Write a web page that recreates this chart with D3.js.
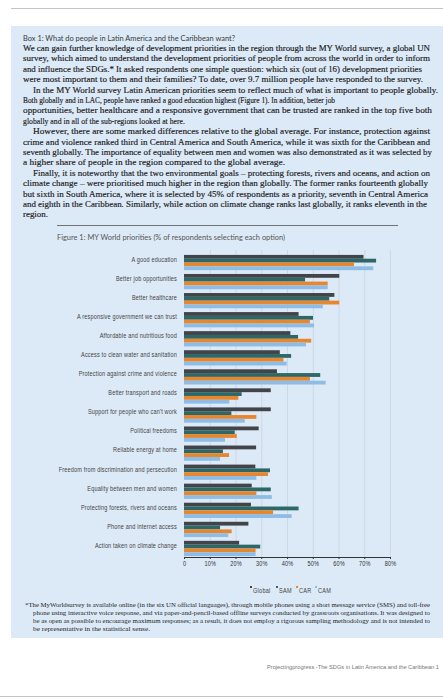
<!DOCTYPE html>
<html><head><meta charset="utf-8">
<script src="https://cdn.jsdelivr.net/npm/d3@7"></script>
<style>
html,body{margin:0;padding:0;background:#fff;}
svg{display:block;}
</style></head>
<body>
<svg id="c" width="443" height="700"></svg>
<script>
// ---- data ----
const categories = [
  "A good education","Better job opportunities","Better healthcare",
  "A responsive government we can trust","Affordable and nutritious food",
  "Access to clean water and sanitation","Protection against crime and violence",
  "Better transport and roads","Support for people who can't work",
  "Political freedoms","Reliable energy at home",
  "Freedom from discrimination and persecution","Equality between  men and women",
  "Protecting forests, rivers and oceans","Phone and internet access",
  "Action taken on climate change"
];
const seriesNames = ["Global","SAM","CAR","CAM"];
const globalVals = [69.7,60.3,58.4,44.5,41.3,37.2,36.1,33.7,33.7,29.0,28.0,27.7,26.3,26.0,25.0,21.4];
const samVals    = [74.6,47.0,56.4,50.1,44.3,41.6,52.9,22.4,18.4,19.7,15.1,33.4,33.7,44.5,14.0,29.6];
const carVals    = [66.0,55.8,60.3,48.9,49.4,38.6,48.9,21.1,28.1,20.5,17.5,32.6,28.1,34.6,18.5,27.8];
const camVals    = [73.5,55.8,53.9,50.5,47.4,39.9,55.0,17.6,23.6,15.9,14.0,28.1,34.1,41.8,17.2,27.8];
const tickValues = [0,10,20,30,40,50,60,70,80];
const tickLabels = ["0","10%","20%","30%","40%","50%","60%","70%","80%"];

const boxTitle = "Box 1: What do people in Latin America and the Caribbean want?";
const paraLines = [
 "We can gain further knowledge of development priorities in the region through the MY World survey, a global UN",
 "survey, which aimed to understand the development priorities of people from across the world in order to inform",
 "and influence the SDGs.* It asked respondents one simple question: which six (out of 16) development priorities",
 "were most important to them and their families? To date, over 9.7 million people have responded to the survey.",
 "In the MY World survey Latin American priorities seem to reflect much of what is important to people globally.",
 "Both globally and in LAC, people have ranked a good education highest (Figure 1). In addition, better job",
 "opportunities, better healthcare and a responsive government that can be trusted are ranked in the top five both",
 "globally and in all of the sub-regions looked at  here.",
 "However, there are some marked differences relative to the global average. For instance, protection against",
 "crime and violence ranked third in Central America and South America, while it was sixth for the Caribbean and",
 "seventh globally. The importance of equality between men and women was also demonstrated as it was selected by",
 "a higher share of people in the region compared to the global average.",
 "Finally, it is noteworthy that the two environmental goals \u2013 protecting forests, rivers and oceans, and action on",
 "climate change \u2013 were prioritised much higher in the region than globally. The former ranks fourteenth globally",
 "but sixth in South America, where it is selected by 45% of respondents as a priority, seventh in Central America",
 "and eighth in the Caribbean. Similarly, while action on climate change ranks last globally, it ranks eleventh in the",
 "region."
];
const figCaption = "Figure 1: MY World priorities (% of respondents selecting each option)";
const footLines = [
 "*The MyWorldsurvey is available online (in the six UN official languages), through mobile phones using a short message service (SMS) and toll-free",
 "phone using interactive voice response, and via paper-and-pencil-based offline surveys conducted by grassroots organisations. It was designed to",
 "be as open as possible to encourage maximum responses; as a result, it does not employ a rigorous sampling methodology and is not intended to",
 "be representative in the statistical sense."
];
const footerText = "Projectingprogress -The SDGs in Latin America and the Caribbean  1";

// ---- layout / style ----
const colors = {Global:"#414448", SAM:"#2e6767", CAR:"#e8862e", CAM:"#8dbde6"};
const paraIndent = new Set([4,8,12]);
const paraEnds = [430,430,422,423,438,335,432,185,430,430,432,285,430,428,428,427,48];
const footEnds = [430,430,430,150];
const narrowFont = "'Liberation Sans Narrow', 'Liberation Sans', Arial, sans-serif";

// condense text horizontally (narrow font look)
function condense(sel, f){
  sel.each(function(){
    const w = this.getComputedTextLength();
    if (w > 0) d3.select(this).attr("textLength", w*f).attr("lengthAdjust","spacingAndGlyphs");
  });
}

const svg = d3.select("#c");
// page lines
svg.append("line").attr("x1",11).attr("x2",443).attr("y1",8.5).attr("y2",8.5).attr("stroke","#c4c4c4").attr("stroke-width",1);
svg.append("line").attr("x1",0).attr("x2",443).attr("y1",696.5).attr("y2",696.5).attr("stroke","#c4c4c4").attr("stroke-width",1);
// box
svg.append("rect").attr("x",11).attr("y",26).attr("width",432).attr("height",612).attr("fill","#dce9f7");

svg.append("text").attr("x",23).attr("y",41).attr("font-family","Lato, 'Open Sans', sans-serif")
  .attr("font-size",7.6).attr("fill","#3a3a3a").attr("textLength",212).attr("lengthAdjust","spacingAndGlyphs").text(boxTitle);

svg.append("g").selectAll("text").data(paraLines).join("text")
  .attr("x",(d,i)=>paraIndent.has(i)?33:23)
  .attr("y",(d,i)=>51+i*10.4)
  .attr("font-family","'Liberation Serif', serif").attr("font-size",8.8).attr("fill","#1a1a1a")
  .attr("stroke","#1a1a1a").attr("stroke-width",0.15)
  .attr("textLength",(d,i)=>paraEnds[i]-(paraIndent.has(i)?33:23))
  .attr("lengthAdjust","spacingAndGlyphs").text(d=>d);

svg.append("line").attr("x1",57).attr("x2",398).attr("y1",225.5).attr("y2",225.5).attr("stroke","#6f747a").attr("stroke-width",1);

svg.append("text").attr("x",57).attr("y",240).attr("font-family","Lato, 'Open Sans', sans-serif")
  .attr("font-size",7.4).attr("fill","#555").attr("textLength",228).attr("lengthAdjust","spacingAndGlyphs").text(figCaption);

// ---- chart ----
const x = d3.scaleLinear().domain([0,80]).range([184,390]);
const y = d3.scaleBand().domain(categories).range([253,558]).paddingInner(0.2).paddingOuter(0.1);
const ys = d3.scaleBand().domain(seriesNames).range([0,y.bandwidth()]);

// grid
svg.append("g").selectAll("line").data(tickValues.slice(1)).join("line")
  .attr("x1",d=>x(d)+0.5).attr("x2",d=>x(d)+0.5).attr("y1",250).attr("y2",557)
  .attr("stroke","#c9d3de").attr("stroke-width",0.8);

const table = categories.map((c,i)=>({cat:c, Global:globalVals[i], SAM:samVals[i], CAR:carVals[i], CAM:camVals[i]}));
const groups = svg.append("g").selectAll("g").data(table).join("g")
  .attr("transform",d=>`translate(0,${y(d.cat)})`);
groups.selectAll("rect").data(d=>seriesNames.map(s=>({s, v:d[s]}))).join("rect")
  .attr("x",x(0)).attr("y",d=>ys(d.s)).attr("height",ys.bandwidth())
  .attr("width",d=>x(d.v)-x(0)).attr("fill",d=>colors[d.s]);

// category labels
const catLabels = svg.append("g").selectAll("text").data(categories).join("text")
  .attr("x",177).attr("y",d=>y(d)+y.bandwidth()/2-3)
  .attr("dy","0.35em").attr("text-anchor","end")
  .attr("font-family",narrowFont)
  .attr("font-size",6.6).attr("fill","#444").attr("letter-spacing",0.2).text(d=>d);
condense(catLabels, 0.84);

// x axis
const axis = d3.axisBottom(x).tickValues(tickValues).tickFormat((d,i)=>tickLabels[i]).tickSize(2).tickSizeOuter(0);
const ax = svg.append("g").attr("transform","translate(0,557)").call(axis);
ax.select(".domain").attr("stroke","#333").attr("stroke-width",1.2);
ax.selectAll(".tick line").attr("stroke","#333");
const tickTexts = ax.selectAll(".tick text").attr("font-family",narrowFont)
  .attr("font-size",6.6).attr("fill","#333").attr("y",4).attr("letter-spacing",0.15);
condense(tickTexts, 0.84);

// legend
const legX = [250,276,296,315];
const leg = svg.append("g").selectAll("g").data(seriesNames).join("g")
  .attr("transform",(d,i)=>`translate(${legX[i]},593)`);
leg.append("rect").attr("x",0).attr("y",-7).attr("width",2).attr("height",2).attr("fill",d=>colors[d]);
const legTexts = leg.append("text").attr("x",3).attr("y",0).attr("font-family",narrowFont)
  .attr("font-size",6.6).attr("fill","#444").attr("letter-spacing",0.3).text(d=>d);
condense(legTexts, 0.84);

// footnote
svg.append("g").selectAll("text").data(footLines).join("text")
  .attr("x",(d,i)=>i===0?25:33).attr("y",(d,i)=>607+i*8)
  .attr("font-family","'Liberation Serif', serif").attr("font-size",6.6).attr("fill","#1e1e1e")
  .attr("textLength",(d,i)=>footEnds[i]-(i===0?25:33)).attr("lengthAdjust","spacingAndGlyphs").text(d=>d);

// footer
svg.append("text").attr("x",267).attr("y",669)
  .attr("font-family",narrowFont)
  .attr("font-size",5.2).attr("fill","#777").attr("textLength",172).attr("lengthAdjust","spacingAndGlyphs").text(footerText);
</script>
</body></html>
